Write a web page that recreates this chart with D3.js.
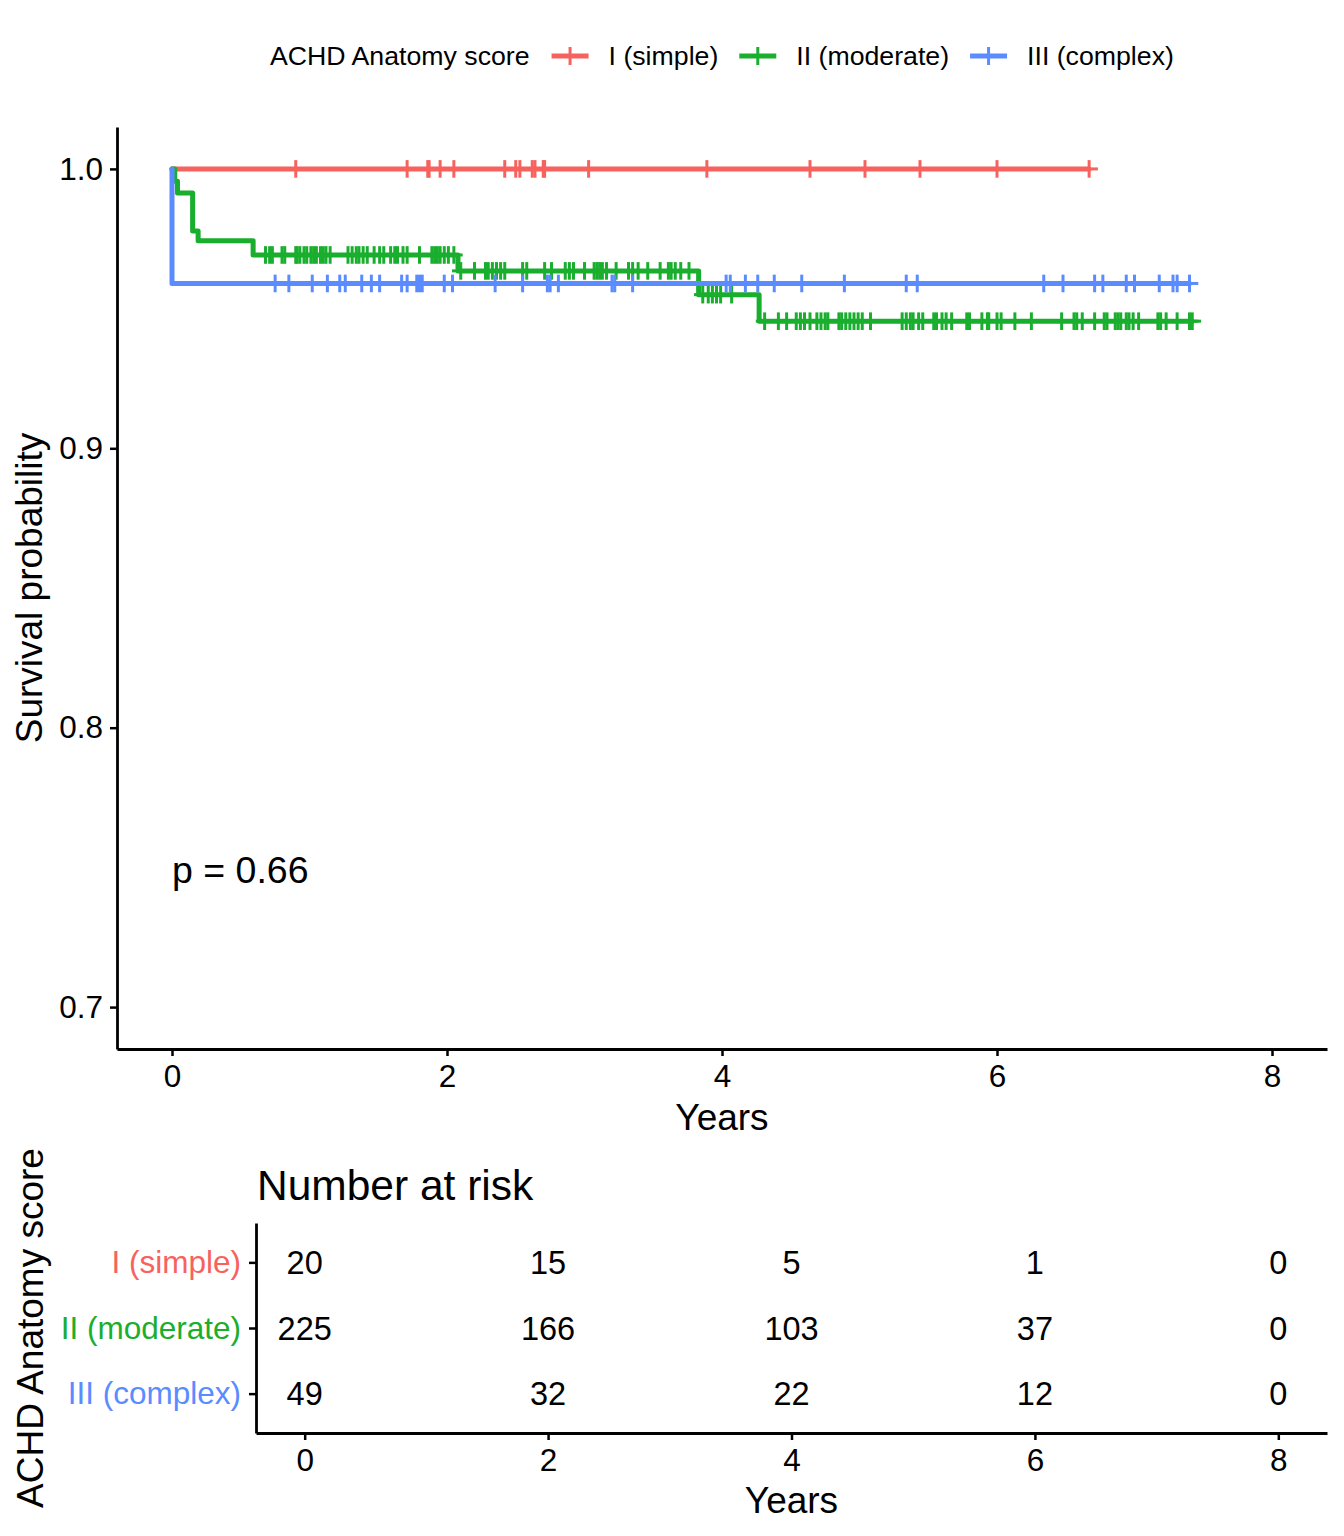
<!DOCTYPE html>
<html>
<head>
<meta charset="utf-8">
<script src="https://cdn.jsdelivr.net/npm/d3@7"></script>
<style>
  body { margin: 0; background: #fff; }
  text { font-family: "Liberation Sans", Arial, sans-serif; }
</style>
</head>
<body>
<div id="chart"></div>
<script>
// data
const groups = ["I (simple)", "II (moderate)", "III (complex)"];
const colors = ["#F7625E", "#1AAE2E", "#5B8CFF"];

// KM step changes (years, survival)
const stepTimesI = [0];
const stepSurvI = [1];
const stepTimesII = [0, 0.02, 0.04, 0.15, 0.19, 0.59, 2.08, 3.83, 4.27];
const stepSurvII = [1, 0.9956, 0.9914, 0.9778, 0.9743, 0.9692, 0.9635, 0.9550, 0.9455];
const stepTimesIII = [0, 0];
const stepSurvIII = [1, 0.959];

// censoring times (years)
const censorI = [0.90, 1.71, 1.86, 1.87, 1.95, 2.05, 2.42, 2.50, 2.53, 2.62, 2.64, 2.70, 2.71,
  3.03, 3.89, 4.64, 5.04, 5.44, 6.00, 6.67];
const censorII = [0.68, 0.71, 0.73, 0.80, 0.82, 0.90, 0.91, 0.93, 0.96, 0.98, 1.01, 1.03, 1.05,
  1.08, 1.10, 1.12, 1.15, 1.28, 1.31, 1.34, 1.36, 1.39, 1.42, 1.47, 1.51, 1.54, 1.59, 1.62, 1.64,
  1.68, 1.71, 1.80, 1.89, 1.91, 1.93, 1.95, 1.98, 2.01, 2.05,
  2.10, 2.20, 2.28, 2.30, 2.33, 2.36, 2.39, 2.42, 2.55, 2.58, 2.71, 2.76, 2.86, 2.89, 2.92, 3.00,
  3.07, 3.09, 3.11, 3.13, 3.16, 3.23, 3.32, 3.35, 3.39, 3.46, 3.55, 3.61, 3.63, 3.66, 3.70, 3.76,
  3.86, 3.90, 3.93, 3.96, 3.99, 4.07,
  4.31, 4.41, 4.47, 4.54, 4.57, 4.60, 4.64, 4.69, 4.72, 4.75, 4.77, 4.85, 4.87, 4.90, 4.93, 4.96,
  4.99, 5.02, 5.08, 5.31, 5.34, 5.37, 5.39, 5.43, 5.46, 5.54, 5.56, 5.60, 5.63, 5.67, 5.78, 5.80,
  5.89, 5.93, 5.94, 6.00, 6.03, 6.13, 6.25, 6.47, 6.56, 6.58, 6.62, 6.71, 6.78, 6.80, 6.86, 6.88,
  6.90, 6.94, 6.96, 6.99, 7.03, 7.17, 7.19, 7.23, 7.31, 7.40, 7.42];
const censorIII = [0.75, 0.85, 1.02, 1.13, 1.22, 1.26, 1.38, 1.45, 1.51, 1.67, 1.71, 1.78, 1.80,
  1.82, 1.98, 2.04, 2.35, 2.55, 2.73, 2.75, 2.81, 3.20, 3.22, 3.35, 4.03, 4.06, 4.17, 4.26, 4.38,
  4.58, 4.89, 5.34, 5.42, 6.34, 6.48, 6.71, 6.77, 6.94, 7.00, 7.18, 7.28, 7.31, 7.40];

// number at risk
const riskTimes = [0, 2, 4, 6, 8];
const riskI = [20, 15, 5, 1, 0];
const riskII = [225, 166, 103, 37, 0];
const riskIII = [49, 32, 22, 12, 0];

const xTicks = [0, 2, 4, 6, 8];
const yTicks = [0.7, 0.8, 0.9, 1.0];
const pText = "p = 0.66";

// I. setup
const W = 1344, H = 1536;
const svg = d3.select("#chart").append("svg")
  .attr("width", W).attr("height", H)
  .attr("viewBox", `0 0 ${W} ${H}`);
svg.append("rect").attr("width", W).attr("height", H).attr("fill", "#fff");

const curves = [
  {times: stepTimesI, surv: stepSurvI, cens: censorI},
  {times: stepTimesII, surv: stepSurvII, cens: censorII},
  {times: stepTimesIII, surv: stepSurvIII, cens: censorIII}
];

// II. scales
const x = d3.scaleLinear().domain([-0.4, 8.4]).range([117, 1327]);
const y = d3.scaleLinear().domain([0.685, 1.015]).range([1049, 127]);

// III. axes
const styleAxis = g => {
  g.select(".domain").attr("stroke", "#000").attr("stroke-width", 2.8);
  g.selectAll(".tick line").attr("stroke", "#000").attr("stroke-width", 2.5);
  g.selectAll(".tick text").attr("fill", "#000")
    .style("font-family", "Liberation Sans, Arial, sans-serif").style("font-size", "31.5px");
};

svg.append("g")
  .attr("transform", "translate(117,0)")
  .call(d3.axisLeft(y).tickValues(yTicks).tickFormat(d3.format(".1f"))
    .tickSize(7).tickSizeOuter(0).tickPadding(7))
  .call(styleAxis);

svg.append("g")
  .attr("transform", "translate(0,1049)")
  .call(d3.axisBottom(x).tickValues(xTicks).tickFormat(d3.format("d"))
    .tickSize(7).tickSizeOuter(0).tickPadding(9))
  .call(styleAxis);

svg.append("text").attr("x", 722).attr("y", 1130).attr("text-anchor", "middle")
  .style("font-size", "37px").text("Years");
svg.append("text").attr("transform", "translate(42,588) rotate(-90)")
  .attr("text-anchor", "middle").style("font-size", "37px").text("Survival probability");

// IV. curves
const line = d3.line().x(d => x(d[0])).y(d => y(d[1])).curve(d3.curveStepAfter);
const survAt = (c, t) => c.surv[d3.bisectRight(c.times, t) - 1];
const arm = 8.8;

curves.forEach((c, i) => {
  const tEnd = d3.max(c.cens);
  const pts = c.times.map((t, k) => [t, c.surv[k]]);
  pts.push([tEnd, c.surv[c.surv.length - 1]]);
  svg.append("path").datum(pts)
    .attr("d", line).attr("fill", "none")
    .attr("stroke", colors[i]).attr("stroke-width", 5)
    .attr("stroke-linejoin", "round").attr("stroke-linecap", "round");

  const g = svg.append("g").attr("stroke", colors[i]).attr("stroke-width", 3);
  const marks = g.selectAll("g.cens").data(c.cens).join("g")
    .attr("transform", t => `translate(${x(t)},${y(survAt(c, t))})`);
  marks.append("line").attr("y1", -arm).attr("y2", arm);
  marks.append("line").attr("x1", -arm).attr("x2", arm);
});

svg.append("text").attr("x", x(0)).attr("y", 883).style("font-size", "37.5px").text(pText);

// V. legend
const leg = svg.append("g").attr("transform", "translate(0,56)");
const lt = leg.append("text").attr("x", 270).attr("dy", "0.35em")
  .style("font-size", "26.7px").text("ACHD Anatomy score");
let cx = 270 + lt.node().getComputedTextLength() + 22;
groups.forEach((name, i) => {
  const k = leg.append("g").attr("stroke", colors[i]);
  k.append("line").attr("x1", cx).attr("x2", cx + 37).attr("stroke-width", 5);
  k.append("line").attr("x1", cx + 18.5).attr("x2", cx + 18.5).attr("y1", -9).attr("y2", 9)
    .attr("stroke-width", 3);
  const t = leg.append("text").attr("x", cx + 57).attr("dy", "0.35em")
    .style("font-size", "26.7px").text(name);
  cx = cx + 57 + t.node().getComputedTextLength() + 21;
});

// VI. risk table
const rx = d3.scaleLinear().domain([-0.4, 8.4]).range([256, 1327]);
const ry = d3.scalePoint().domain(groups).range([1223, 1433]).padding(0.6);

svg.append("text").attr("x", 257).attr("y", 1200).style("font-size", "42.5px").text("Number at risk");

const ryAxis = svg.append("g").attr("transform", "translate(256,0)")
  .call(d3.axisLeft(ry).tickSize(7).tickSizeOuter(0).tickPadding(8))
  .call(styleAxis);
ryAxis.selectAll(".tick text").style("font-size", "31.5px").attr("fill", d => colors[groups.indexOf(d)]);

svg.append("g").attr("transform", "translate(0,1433)")
  .call(d3.axisBottom(rx).tickValues(xTicks).tickFormat(d3.format("d"))
    .tickSize(7).tickSizeOuter(0).tickPadding(9))
  .call(styleAxis);

[riskI, riskII, riskIII].forEach((vals, i) => {
  svg.append("g").selectAll("text").data(vals).join("text")
    .attr("x", (d, k) => rx(riskTimes[k]))
    .attr("y", ry(groups[i]))
    .attr("dy", "0.36em")
    .attr("text-anchor", "middle")
    .style("font-size", "32.5px")
    .text(d => d);
});

svg.append("text").attr("x", rx(4)).attr("y", 1513).attr("text-anchor", "middle")
  .style("font-size", "37px").text("Years");
svg.append("text").attr("transform", `translate(43,${(1223 + 1433) / 2}) rotate(-90)`)
  .attr("text-anchor", "middle").style("font-size", "37px").text("ACHD Anatomy score");
</script>
</body>
</html>
